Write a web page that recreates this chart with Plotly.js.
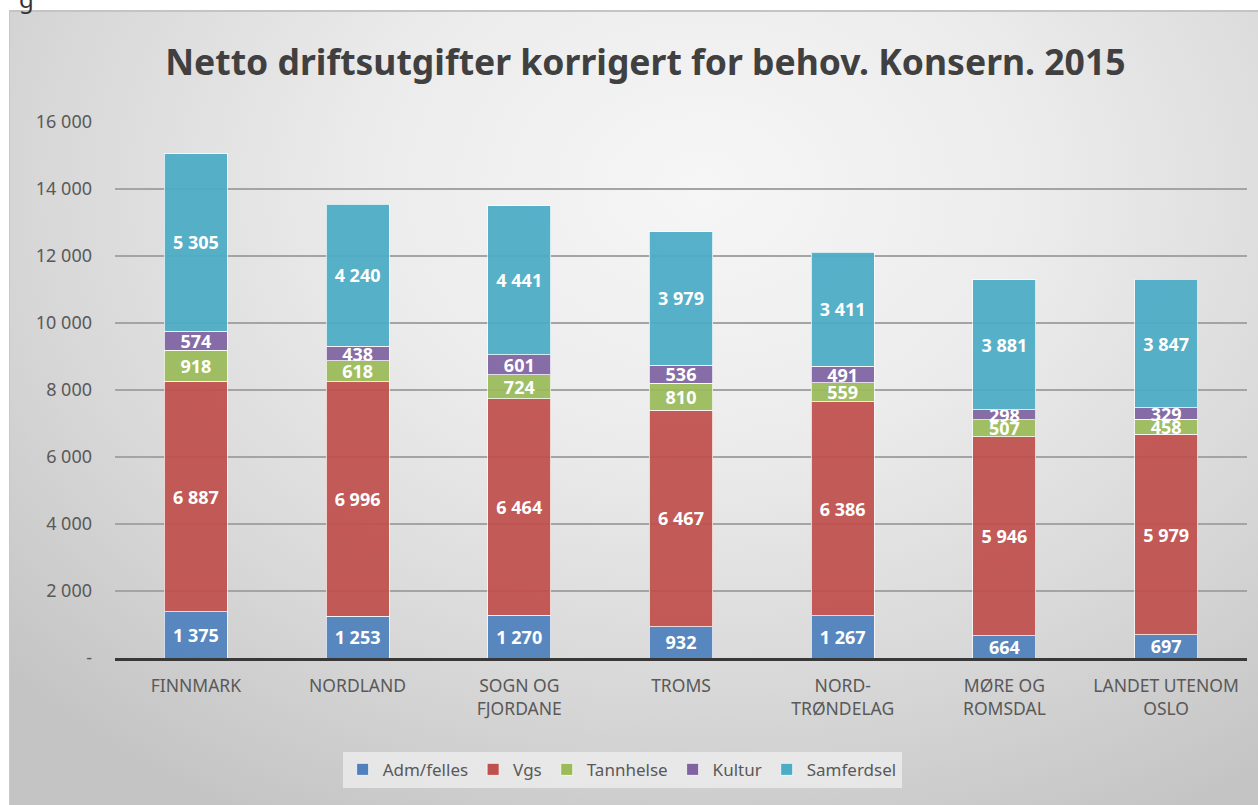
<!DOCTYPE html>
<html>
<head>
<meta charset="utf-8">
<script src="https://cdn.plot.ly/plotly-3.0.1.min.js"></script>
<style>
  html, body { margin: 0; padding: 0; background: #ffffff; }
  #wrap { position: relative; width: 1258px; height: 805px; overflow: hidden; background: #ffffff; }
  #bg { position: absolute; left: 9px; top: 10px; width: 1260px; height: 800px;
        border-top: 2px solid #c4c4c4; border-left: 1px solid #c8c8c8;
        background: radial-gradient(ellipse 75% 90% at 55% 22%, #f6f6f6 0%, #ececec 35%, #d8d8d8 70%, #c4c4c4 100%); }
  #chart { position: absolute; left: 0; top: 0; width: 1258px; height: 805px; }
</style>
</head>
<body>
<div id="wrap">
  <div id="bg"></div>
  <div id="chart"></div>
</div>
<script>
const categories = ["FINNMARK", "NORDLAND", "SOGN OG<br>FJORDANE", "TROMS", "NORD-<br>TRØNDELAG", "MØRE OG<br>ROMSDAL", "LANDET UTENOM<br>OSLO"];
const admFelles  = [1375, 1253, 1270, 932, 1267, 664, 697];
const vgs        = [6887, 6996, 6464, 6467, 6386, 5946, 5979];
const tannhelse  = [918, 618, 724, 810, 559, 507, 458];
const kultur     = [574, 438, 601, 536, 491, 298, 329];
const samferdsel = [5305, 4240, 4441, 3979, 3411, 3881, 3847];
const yTickVals  = [0, 2000, 4000, 6000, 8000, 10000, 12000, 14000, 16000];
const yTickText  = ["-", "2 000", "4 000", "6 000", "8 000", "10 000", "12 000", "14 000", "16 000"];

const FONT = "Noto Sans, Open Sans, sans-serif";

function series(name, values, color) {
  return {
    type: "bar", name: name, x: categories, y: values,
    marker: { color: color, opacity: 0.93, line: { color: "rgba(255,255,255,0.75)", width: 1 } },
    texttemplate: "%{y:,}", textposition: "inside", insidetextanchor: "middle",
    constraintext: "none", cliponaxis: false,
    textfont: { family: FONT, size: 18, color: "#ffffff", weight: "bold" },
    hoverinfo: "skip"
  };
}

const data = [
  series("Adm/felles", admFelles, "#4F81BD"),
  series("Vgs", vgs, "#C0504D"),
  series("Tannhelse", tannhelse, "#9BBB59"),
  series("Kultur", kultur, "#8064A2"),
  series("Samferdsel", samferdsel, "#4BACC6")
];

const layout = {
  width: 1258, height: 805,
  paper_bgcolor: "rgba(0,0,0,0)", plot_bgcolor: "rgba(0,0,0,0)",
  separators: ", ",
  barmode: "stack", bargap: 0.61,
  margin: { l: 115, r: 11, t: 122, b: 147 },
  font: { family: FONT, color: "#595959" },
  title: {
    text: "Netto driftsutgifter korrigert for behov. Konsern. 2015",
    font: { family: FONT, size: 35.5, color: "#404040", weight: "bold" },
    x: 0.513, xanchor: "center", y: 0.922, yanchor: "middle"
  },
  xaxis: {
    type: "category", showgrid: false, showline: true, linecolor: "#383838", linewidth: 3,
    ticks: "", ticklabelstandoff: 10, tickfont: { family: FONT, size: 17.5, color: "#595959" }, tickangle: 0
  },
  yaxis: {
    range: [0, 16000], tickvals: yTickVals, ticktext: yTickText,
    showgrid: true, gridcolor: "#a4a4a4", gridwidth: 1.5, zeroline: false, showline: false,
    ticks: "", ticklabelstandoff: 22, tickfont: { family: FONT, size: 18, color: "#595959" }
  },
  showlegend: true,
  legend: {
    orientation: "h", x: 0.448, xanchor: "center", y: -0.175, yanchor: "top",
    bgcolor: "rgba(245,245,245,0.65)", borderwidth: 0,
    font: { family: FONT, size: 17, color: "#595959" }, traceorder: "normal",
    itemwidth: 30
  },
  annotations: [
    { text: "g", xref: "paper", yref: "paper", x: -0.0786, y: 1.2313, xanchor: "center", yanchor: "middle",
      showarrow: false, font: { family: FONT, size: 24, color: "#333333" } }
  ]
};

Plotly.newPlot("chart", data, layout, { displayModeBar: false, staticPlot: true });
</script>
</body>
</html>
